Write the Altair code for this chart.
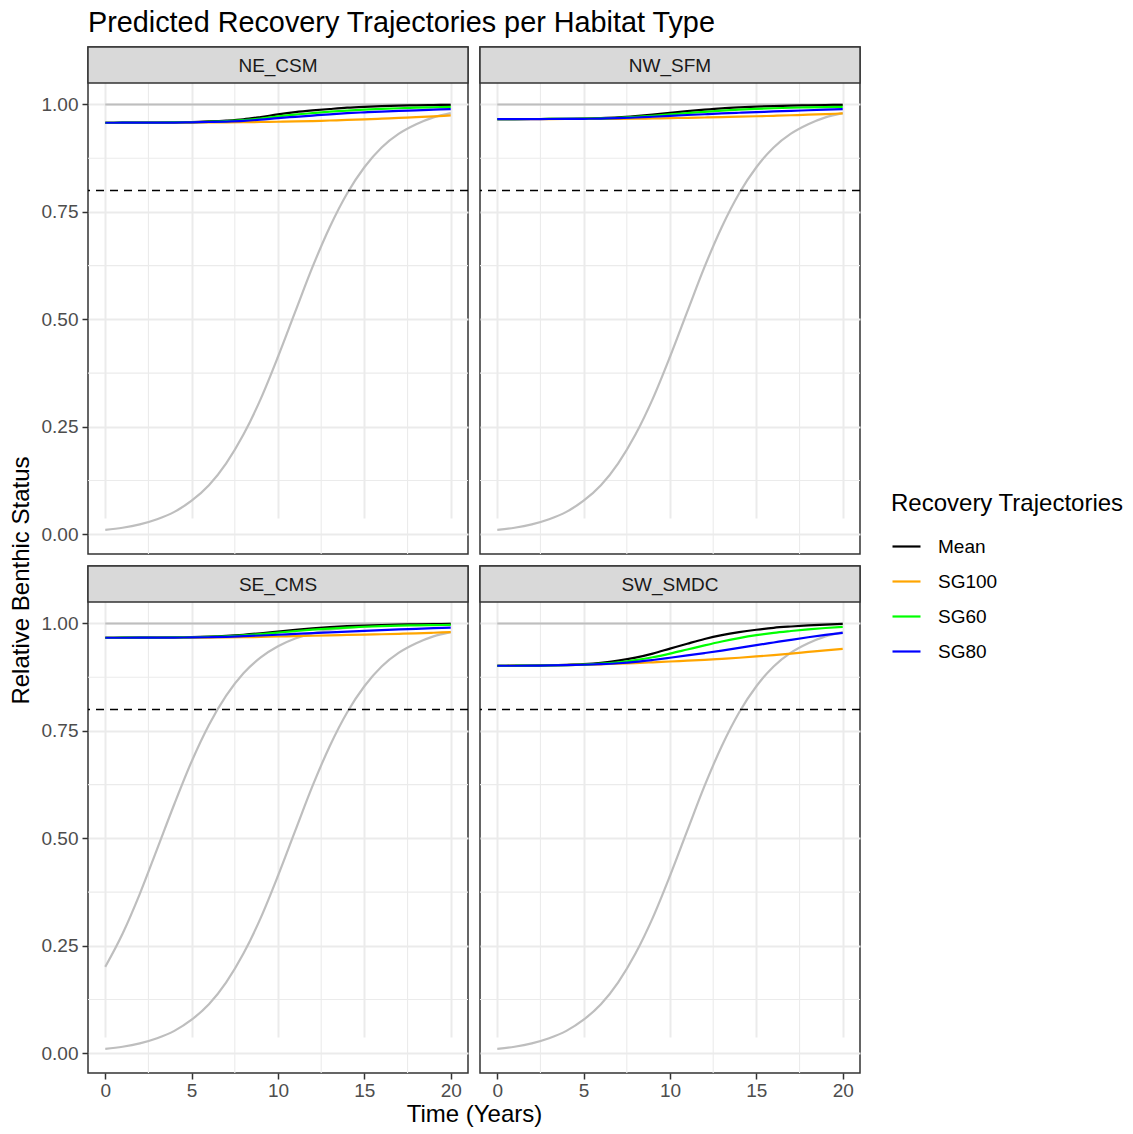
import altair as alt
import pandas as pd

# ---------------- data ----------------
years = list(range(21))
panels = ["NE_CSM", "NW_SFM", "SE_CMS", "SW_SMDC"]
trajectories = ["Mean", "SG100", "SG60", "SG80"]
traj_colors = ["#000000", "#FFA500", "#00FF00", "#0000FF"]

# grey background trajectories
grey_slow = [0.010, 0.015, 0.023, 0.035, 0.052, 0.078, 0.114, 0.165, 0.232, 0.315, 0.413,
             0.518, 0.622, 0.715, 0.793, 0.854, 0.900, 0.932, 0.954, 0.970, 0.980]
grey_fast_se = [0.201, 0.278, 0.371, 0.475, 0.580, 0.679, 0.764, 0.832, 0.884, 0.921, 0.947,
                0.965, 0.977, 0.985, 0.990, 0.993, 0.996, 0.997, 0.998, 0.999, 0.999]
full_years = [0, 20]
full_values = [1.0, 1.0]
threshold = [0.8]

# NE_CSM
ne_mean = [0.9575, 0.9576, 0.9578, 0.9580, 0.9585, 0.9590, 0.9605, 0.9625, 0.9655, 0.9708, 0.9770,
           0.9822, 0.9862, 0.9895, 0.9925, 0.9945, 0.9960, 0.9972, 0.9980, 0.9987, 0.9992]
ne_sg100 = [0.9575, 0.9575, 0.9576, 0.9577, 0.9578, 0.9580, 0.9582, 0.9585, 0.9589, 0.9593, 0.9598,
            0.9606, 0.9615, 0.9627, 0.9640, 0.9654, 0.9670, 0.9688, 0.9706, 0.9725, 0.9745]
ne_sg60 = [0.9575, 0.9576, 0.9577, 0.9579, 0.9582, 0.9587, 0.9597, 0.9612, 0.9635, 0.9672, 0.9722,
           0.9765, 0.9800, 0.9832, 0.9858, 0.9880, 0.9898, 0.9913, 0.9925, 0.9936, 0.9946]
ne_sg80 = [0.9575, 0.9576, 0.9577, 0.9578, 0.9580, 0.9584, 0.9592, 0.9603, 0.9620, 0.9648, 0.9684,
           0.9714, 0.9743, 0.9772, 0.9798, 0.9818, 0.9836, 0.9851, 0.9865, 0.9879, 0.9892]

# NW_SFM
nw_mean = [0.9660, 0.9661, 0.9662, 0.9664, 0.9668, 0.9674, 0.9685, 0.9702, 0.9730, 0.9765, 0.9805,
           0.9845, 0.9880, 0.9910, 0.9932, 0.9950, 0.9963, 0.9973, 0.9981, 0.9987, 0.9992]
nw_sg100 = [0.9660, 0.9660, 0.9661, 0.9661, 0.9662, 0.9663, 0.9665, 0.9667, 0.9670, 0.9675, 0.9682,
            0.9689, 0.9697, 0.9706, 0.9716, 0.9726, 0.9737, 0.9749, 0.9762, 0.9776, 0.9791]
nw_sg60 = [0.9660, 0.9661, 0.9662, 0.9663, 0.9666, 0.9670, 0.9678, 0.9690, 0.9710, 0.9737, 0.9768,
           0.9800, 0.9830, 0.9857, 0.9880, 0.9898, 0.9912, 0.9924, 0.9933, 0.9940, 0.9946]
nw_sg80 = [0.9660, 0.9661, 0.9661, 0.9662, 0.9664, 0.9667, 0.9673, 0.9682, 0.9697, 0.9715, 0.9735,
           0.9755, 0.9773, 0.9791, 0.9808, 0.9823, 0.9838, 0.9852, 0.9866, 0.9879, 0.9892]

# SE_CMS
se_mean = [0.9668, 0.9669, 0.9670, 0.9672, 0.9676, 0.9683, 0.9694, 0.9712, 0.9738, 0.9772, 0.9812,
           0.9852, 0.9887, 0.9915, 0.9937, 0.9953, 0.9965, 0.9974, 0.9981, 0.9986, 0.9990]
se_sg100 = [0.9668, 0.9668, 0.9668, 0.9669, 0.9670, 0.9671, 0.9673, 0.9676, 0.9680, 0.9688, 0.9697,
            0.9706, 0.9715, 0.9724, 0.9733, 0.9740, 0.9750, 0.9760, 0.9772, 0.9785, 0.9798]
se_sg60 = [0.9668, 0.9669, 0.9670, 0.9672, 0.9675, 0.9680, 0.9689, 0.9703, 0.9724, 0.9753, 0.9788,
           0.9823, 0.9855, 0.9882, 0.9905, 0.9924, 0.9938, 0.9949, 0.9957, 0.9963, 0.9967]
se_sg80 = [0.9668, 0.9668, 0.9669, 0.9670, 0.9672, 0.9675, 0.9680, 0.9690, 0.9705, 0.9720, 0.9738,
           0.9757, 0.9775, 0.9792, 0.9810, 0.9828, 0.9845, 0.9861, 0.9876, 0.9891, 0.9906]

# SW_SMDC
sw_mean = [0.9016, 0.9018, 0.9022, 0.9028, 0.9038, 0.9055, 0.9085, 0.9135, 0.9205, 0.9300, 0.9415,
           0.9530, 0.9640, 0.9730, 0.9800, 0.9855, 0.9900, 0.9930, 0.9955, 0.9975, 0.9990]
sw_sg100 = [0.9016, 0.9018, 0.9021, 0.9025, 0.9031, 0.9040, 0.9050, 0.9063, 0.9078, 0.9096, 0.9116,
            0.9134, 0.9153, 0.9177, 0.9203, 0.9233, 0.9265, 0.9300, 0.9338, 0.9375, 0.9411]
sw_sg60 = [0.9016, 0.9017, 0.9020, 0.9025, 0.9033, 0.9045, 0.9065, 0.9098, 0.9148, 0.9215, 0.9300,
           0.9395, 0.9490, 0.9580, 0.9660, 0.9728, 0.9783, 0.9825, 0.9863, 0.9895, 0.9922]
sw_sg80 = [0.9016, 0.9017, 0.9019, 0.9023, 0.9030, 0.9040, 0.9055, 0.9075, 0.9105, 0.9150, 0.9202,
           0.9256, 0.9312, 0.9370, 0.9432, 0.9496, 0.9558, 0.9620, 0.9680, 0.9735, 0.9783]

x_major = [0, 5, 10, 15, 20]
x_minor = [2.5, 7.5, 12.5, 17.5]
y_major = [0.0, 0.25, 0.5, 0.75, 1.0]
y_minor = [0.125, 0.375, 0.625, 0.875]

series = {
    "NE_CSM": [ne_mean, ne_sg100, ne_sg60, ne_sg80],
    "NW_SFM": [nw_mean, nw_sg100, nw_sg60, nw_sg80],
    "SE_CMS": [se_mean, se_sg100, se_sg60, se_sg80],
    "SW_SMDC": [sw_mean, sw_sg100, sw_sg60, sw_sg80],
}
grey_curves = {
    "NE_CSM": [grey_slow],
    "NW_SFM": [grey_slow],
    "SE_CMS": [grey_fast_se, grey_slow],
    "SW_SMDC": [grey_slow],
}

# ---------------- styling ----------------
FONT = "Liberation Sans"
W, H, STRIP = 380, 507, 36
GRID = "#EBEBEB"
DARK = "#333333"

xscale = alt.Scale(domain=[-1, 21], nice=False, zero=False)
yscale = alt.Scale(domain=[-0.046, 1.05], range=[H, STRIP], nice=False, zero=False)
cscale = alt.Scale(domain=trajectories, range=traj_colors)


def axis_x(show, title=None):
    kw = dict(values=x_major, grid=True, gridColor=GRID, gridWidth=2, domain=False,
              labels=show, ticks=show, title=title)
    if show:
        kw.update(labelFontSize=19, labelColor="#4D4D4D", labelFont=FONT, labelPadding=2,
                  tickColor=DARK, tickSize=6, tickWidth=1.5)
    if title:
        kw.update(titleX=386, titleFontSize=24, titleFont=FONT, titleFontWeight="normal",
                  titleColor="#000000", titlePadding=2)
    return alt.Axis(**kw)


def axis_y(show, title=None):
    kw = dict(values=y_major, grid=True, gridColor=GRID, gridWidth=2, domain=False,
              labels=show, ticks=show, title=title, format=".2f")
    if show:
        kw.update(labelFontSize=19, labelColor="#4D4D4D", labelFont=FONT, labelPadding=4,
                  tickColor=DARK, tickSize=6, tickWidth=1.5)
    if title:
        kw.update(titleY=533, titleFontSize=24, titleFont=FONT, titleFontWeight="normal",
                  titleColor="#000000", titlePadding=8)
    return alt.Axis(**kw)


def make_panel(name, show_x, show_y, x_title=None, y_title=None):
    ax = axis_x(show_x, x_title)
    ay = axis_y(show_y, y_title)

    rows = []
    for tr, vals in zip(trajectories, series[name]):
        for yr, v in zip(years, vals):
            rows.append({"year": yr, "value": v, "traj": tr})
    df_traj = pd.DataFrame(rows)

    grows = []
    for i, vals in enumerate(grey_curves[name]):
        for yr, v in zip(years, vals):
            grows.append({"year": yr, "value": v, "curve": f"c{i}"})
    for yr, v in zip(full_years, full_values):
        grows.append({"year": yr, "value": v, "curve": "full"})
    df_grey = pd.DataFrame(grows)

    minor_x = alt.Chart(pd.DataFrame({"v": x_minor})).mark_rule(
        color=GRID, strokeWidth=1.1).encode(x=alt.X("v:Q", scale=xscale, axis=ax))
    minor_y = alt.Chart(pd.DataFrame({"v": y_minor})).mark_rule(
        color=GRID, strokeWidth=1.1).encode(y=alt.Y("v:Q", scale=yscale, axis=ay))

    grey = alt.Chart(df_grey).mark_line(
        color="#BEBEBE", strokeWidth=2.2, interpolate="monotone").encode(
        x=alt.X("year:Q", scale=xscale, axis=ax),
        y=alt.Y("value:Q", scale=yscale, axis=ay),
        detail="curve:N",
    )

    lines = alt.Chart(df_traj).mark_line(strokeWidth=2.2, interpolate="monotone").encode(
        x=alt.X("year:Q", scale=xscale, axis=ax),
        y=alt.Y("value:Q", scale=yscale, axis=ay),
        color=alt.Color(
            "traj:N", scale=cscale,
            legend=alt.Legend(
                title="Recovery Trajectories", orient="none", legendX=803, legendY=445,
                symbolType="stroke", symbolSize=784, symbolStrokeWidth=2.2,
                labelFontSize=19, labelFont=FONT, labelColor="#000000", labelOffset=16,
                titleFontSize=24, titleFont=FONT, titleFontWeight="normal",
                titleColor="#000000", titlePadding=15, rowPadding=9, padding=0,
                titleLimit=500, labelLimit=300,
            ),
        ),
    )

    dashed = alt.Chart(pd.DataFrame({"v": threshold})).mark_rule(
        color="#000000", strokeWidth=1.6, strokeDash=[8, 6]).encode(
        y=alt.Y("v:Q", scale=yscale, axis=ay))

    strip_df = pd.DataFrame({"panel": [name]})
    strip_rect = alt.Chart(strip_df).mark_rect(
        fill="#D9D9D9", stroke=DARK, strokeWidth=1.5).encode(
        x=alt.value(0), x2=alt.value(W), y=alt.value(0), y2=alt.value(STRIP))
    strip_text = alt.Chart(strip_df).mark_text(
        fontSize=19, font=FONT, color="#1A1A1A", baseline="middle", align="center").encode(
        x=alt.value(W / 2), y=alt.value(STRIP / 2 + 1), text="panel:N")

    return alt.layer(minor_x, minor_y, grey, lines, dashed, strip_rect, strip_text).properties(
        width=W, height=H)


chart = alt.concat(
    make_panel("NE_CSM", False, True, y_title="Relative Benthic Status"),
    make_panel("NW_SFM", False, False),
    make_panel("SE_CMS", True, True, x_title="Time (Years)"),
    make_panel("SW_SMDC", True, False),
    columns=2, spacing=12, bounds="flush",
).resolve_scale(
    color="shared"
).properties(
    title=alt.TitleParams(
        "Predicted Recovery Trajectories per Habitat Type",
        anchor="start", frame="group", fontSize=28.8, font=FONT,
        fontWeight="normal", color="#000000", dx=0, offset=8,
    ),
    padding={"top": 0, "left": 0, "right": 0, "bottom": 0},
).configure(font=FONT).configure_view(stroke=DARK, strokeWidth=1.5)

chart.save("out.html", embed_options={"renderer": "svg", "actions": False})
